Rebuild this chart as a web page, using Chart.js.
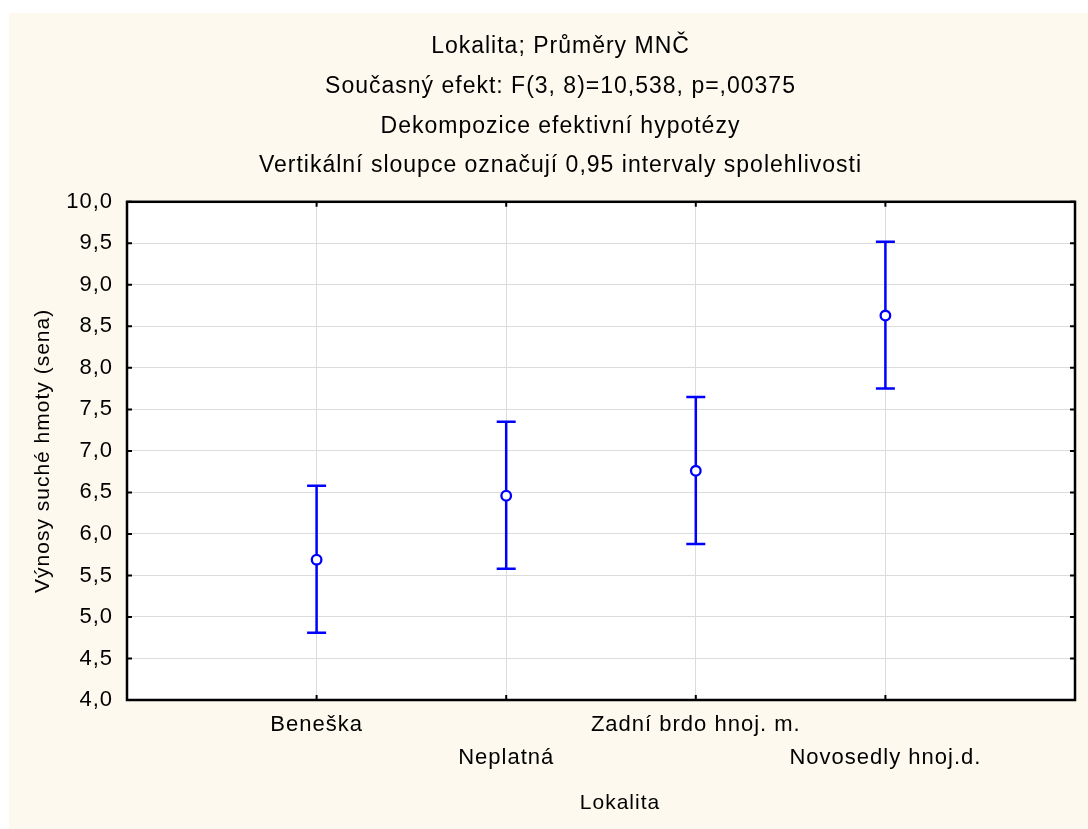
<!DOCTYPE html>
<html>
<head>
<meta charset="utf-8">
<title>Lokalita; Průměry MNČ</title>
<script src="https://cdn.jsdelivr.net/npm/chart.js@4.4.1/dist/chart.umd.min.js"></script>
<style>
  html, body { margin: 0; padding: 0; background: #ffffff; }
  #wrap { width: 1088px; height: 829px; }
</style>
</head>
<body>
<div id="wrap"><canvas id="meansChart" width="1088" height="829"></canvas></div>
<script>
// Lokality, průměry MNČ a meze 0,95 intervalů spolehlivosti
const lokality = ['Beneška', 'Neplatná', 'Zadní brdo hnoj. m.', 'Novosedly hnoj.d.'];
const prumery = [5.69, 6.46, 6.76, 8.63];
const dolniMez = [4.81, 5.58, 5.88, 7.75];
const horniMez = [6.58, 7.35, 7.65, 9.52];
const yTicks = [4.0, 4.5, 5.0, 5.5, 6.0, 6.5, 7.0, 7.5, 8.0, 8.5, 9.0, 9.5, 10.0];
const titulek = [
    'Lokalita; Průměry MNČ',
    'Současný efekt: F(3, 8)=10,538, p=,00375',
    'Dekompozice efektivní hypotézy',
    'Vertikální sloupce označují 0,95 intervaly spolehlivosti'
];
const osaX = 'Lokalita';

const FONT = "'Liberation Sans', Arial, sans-serif";
const BLUE = '#0000ff';

// slightly wider text spacing, set before layout (measuring) and before drawing
const spacingPlugin = {
    id: 'spacing',
    beforeUpdate(chart) { chart.ctx.letterSpacing = '1px'; },
    beforeDraw(chart) { chart.ctx.letterSpacing = '1px'; }
};

// cream panel behind everything, white plot area
const panelPlugin = {
    id: 'panel',
    beforeDraw(chart) {
        const ctx = chart.ctx;
        const a = chart.chartArea;
        ctx.save();
        ctx.fillStyle = '#fdf9ee';
        ctx.fillRect(9, 13, chart.width - 9, chart.height - 13);
        ctx.fillStyle = '#ffffff';
        ctx.fillRect(a.left, a.top, a.right - a.left, a.bottom - a.top);
        ctx.restore();
    }
};

// vertical interval bars with caps, under the mean markers
const errorBarPlugin = {
    id: 'errorBars',
    beforeDatasetsDraw(chart) {
        const ctx = chart.ctx;
        const xs = chart.scales.x;
        const ys = chart.scales.y;
        ctx.save();
        ctx.strokeStyle = BLUE;
        ctx.lineWidth = 2.5;
        lokality.forEach((_, i) => {
            const x = xs.getPixelForValue(i + 1);
            const lo = ys.getPixelForValue(dolniMez[i]);
            const hi = ys.getPixelForValue(horniMez[i]);
            ctx.beginPath();
            ctx.moveTo(x, lo);
            ctx.lineTo(x, hi);
            ctx.moveTo(x - 9.5, lo);
            ctx.lineTo(x + 9.5, lo);
            ctx.moveTo(x - 9.5, hi);
            ctx.lineTo(x + 9.5, hi);
            ctx.stroke();
        });
        ctx.restore();
    }
};

// black frame round the plot with short inward ticks on all four sides,
// plus the x axis name, which sits a bit right of the plot centre
const framePlugin = {
    id: 'frame',
    afterDraw(chart) {
        const ctx = chart.ctx;
        const a = chart.chartArea;
        const xs = chart.scales.x;
        const ys = chart.scales.y;
        const len = 5;
        ctx.save();
        ctx.strokeStyle = '#000000';
        ctx.lineWidth = 2.5;
        ctx.strokeRect(a.left, a.top, a.right - a.left, a.bottom - a.top);
        ctx.lineWidth = 2;
        ctx.beginPath();
        yTicks.forEach(v => {
            const y = ys.getPixelForValue(v);
            ctx.moveTo(a.left, y);
            ctx.lineTo(a.left + len, y);
            ctx.moveTo(a.right, y);
            ctx.lineTo(a.right - len, y);
        });
        lokality.forEach((_, i) => {
            const x = xs.getPixelForValue(i + 1);
            ctx.moveTo(x, a.bottom);
            ctx.lineTo(x, a.bottom - len);
            ctx.moveTo(x, a.top);
            ctx.lineTo(x, a.top + len);
        });
        ctx.stroke();

        ctx.letterSpacing = '1px';
        ctx.fillStyle = '#000000';
        ctx.font = '21px ' + FONT;
        ctx.textAlign = 'center';
        ctx.textBaseline = 'middle';
        ctx.fillText(osaX, (a.left + a.right) / 2 + 19, xs.bottom - 26);
        ctx.restore();
    }
};

const ctx = document.getElementById('meansChart').getContext('2d');
const meansChart = new Chart(ctx, {
    type: 'scatter',
    data: {
        datasets: [{
            label: 'Průměr',
            data: lokality.map((_, i) => ({ x: i + 1, y: prumery[i] })),
            pointStyle: 'circle',
            pointRadius: 4.8,
            pointBorderWidth: 2.3,
            pointBorderColor: BLUE,
            pointBackgroundColor: '#ffffff',
            showLine: false
        }]
    },
    options: {
        responsive: false,
        animation: false,
        devicePixelRatio: 1,
        layout: {
            padding: { left: 46, right: 13, top: 27, bottom: 0 }
        },
        plugins: {
            legend: { display: false },
            tooltip: { enabled: false },
            title: {
                display: true,
                text: titulek,
                color: '#000000',
                font: { family: FONT, size: 23, weight: 'normal', lineHeight: 1.726 },
                padding: { top: 0, bottom: 16 }
            }
        },
        scales: {
            x: {
                type: 'linear',
                min: 0,
                max: 5,
                afterBuildTicks: scale => {
                    scale.ticks = [0, 1, 2, 3, 4, 5].map(v => ({ value: v }));
                },
                afterFit: scale => { scale.height = 129; },
                border: { display: false },
                grid: { color: '#dcdcdc', lineWidth: 1, drawTicks: false },
                ticks: {
                    color: '#000000',
                    padding: 8.5,
                    autoSkip: false,
                    maxRotation: 0,
                    font: { family: FONT, size: 22, lineHeight: 1.5 },
                    callback: value => {
                        const i = value - 1;
                        if (i < 0 || i >= lokality.length) return '';
                        // every second name goes one line lower
                        return i % 2 === 0 ? lokality[i] : ['', lokality[i]];
                    }
                },
                title: { display: false }
            },
            y: {
                min: 4,
                max: 10,
                afterBuildTicks: scale => {
                    scale.ticks = yTicks.map(v => ({ value: v }));
                },
                afterFit: scale => { scale.width = 81; },
                border: { display: false },
                grid: { color: '#dcdcdc', lineWidth: 1, drawTicks: false },
                ticks: {
                    color: '#000000',
                    padding: 14,
                    font: { family: FONT, size: 22 },
                    callback: value => value.toFixed(1).replace('.', ',')
                },
                title: {
                    display: true,
                    text: 'Výnosy suché hmoty (sena)',
                    color: '#000000',
                    font: { family: FONT, size: 21, lineHeight: 1.2 },
                    padding: { top: -15.6, bottom: 0 }
                }
            }
        }
    },
    plugins: [spacingPlugin, panelPlugin, errorBarPlugin, framePlugin]
});
</script>
</body>
</html>
